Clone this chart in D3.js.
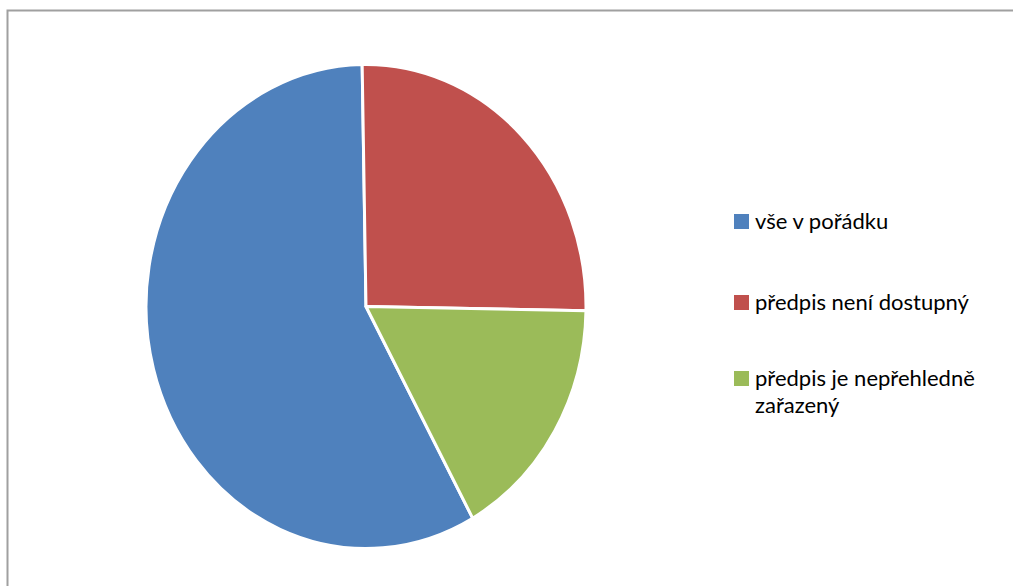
<!DOCTYPE html>
<html>
<head>
<meta charset="utf-8">
<script src="https://cdn.jsdelivr.net/npm/d3@7"></script>
<style>
  body { margin: 0; background: #fff; }
  svg text { font-family: Lato, "Open Sans", sans-serif; fill: #000; }
</style>
</head>
<body>
<div id="chart"></div>
<script>
// data
const categories = ["vše v pořádku", "předpis není dostupný", "předpis je nepřehledně zařazený"];
const values = [52, 23, 15];
const colors = ["#4F81BD", "#C0504D", "#9BBB59"];

const width = 1013, height = 586;
const svg = d3.select("#chart").append("svg")
    .attr("width", width)
    .attr("height", height);

// frame (right/bottom edges fall outside the picture)
svg.append("path")
    .attr("d", "M7.5,600 V10.5 H1030")
    .attr("fill", "none")
    .attr("stroke", "#a0a0a0")
    .attr("stroke-width", 2);

// pie, slightly stretched vertically
const cx = 366, cy = 306.5, rx = 220, ry = 242;
const total = d3.sum(values);
const start = -1 * Math.PI / 180 - values[0] / total * 2 * Math.PI;

const pie = d3.pie().sort(null).startAngle(start).endAngle(start + 2 * Math.PI);
const arc = d3.arc().innerRadius(0).outerRadius(ry);

svg.append("g")
    .attr("transform", `translate(${cx},${cy}) scale(${rx / ry},1)`)
  .selectAll("path")
  .data(pie(values))
  .enter().append("path")
    .attr("d", arc)
    .attr("fill", (d, i) => colors[i])
    .attr("stroke", "#fff")
    .attr("stroke-width", 3)
    .attr("stroke-linejoin", "round")
    .attr("vector-effect", "non-scaling-stroke");

// legend
const legendRows = [
  { lines: ["vše v pořádku"], y: 229 },
  { lines: ["předpis není dostupný"], y: 310 },
  { lines: ["předpis je nepřehledně", "zařazený"], y: 386 }
];

const legend = svg.append("g");
legendRows.forEach((row, i) => {
  legend.append("rect")
      .attr("x", 734)
      .attr("y", row.y - 15)
      .attr("width", 15)
      .attr("height", 15)
      .attr("fill", colors[i]);
  const t = legend.append("text")
      .attr("x", 755)
      .attr("y", row.y)
      .attr("font-size", 22);
  row.lines.forEach((l, j) => {
    t.append("tspan")
        .attr("x", 755)
        .attr("dy", j === 0 ? 0 : 27)
        .text(l);
  });
});
</script>
</body>
</html>
